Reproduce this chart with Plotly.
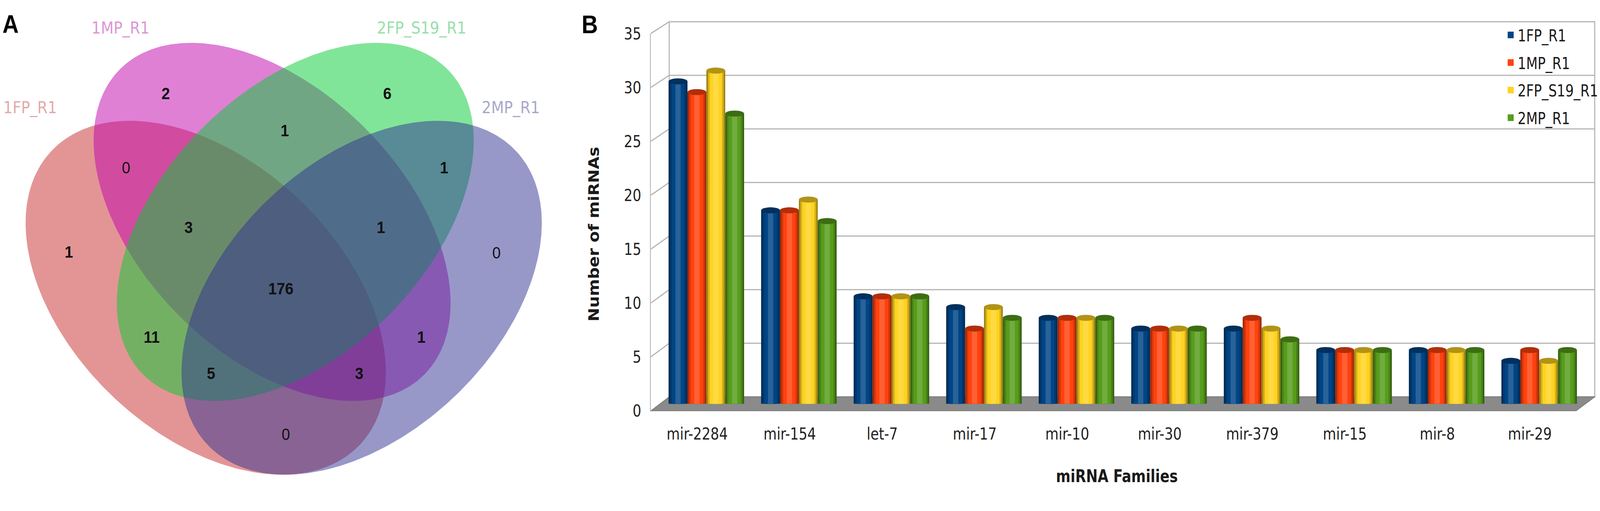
import numpy as np
import plotly.graph_objects as go

# ---------------- panel A : Venn counts ----------------
SETS = ["1FP_R1", "1MP_R1", "2FP_S19_R1", "2MP_R1"]
REGIONS = ["1FP", "1MP", "2FP", "2MP",
           "1FP&1MP", "1MP&2FP", "2FP&2MP", "1FP&2FP", "1MP&2MP", "1FP&2MP",
           "1FP&1MP&2FP", "1MP&2FP&2MP", "1FP&2FP&2MP", "1FP&1MP&2MP", "all"]
REGION_COUNTS = [1, 2, 6, 0, 0, 1, 1, 11, 1, 0, 3, 1, 5, 3, 176]

# ---------------- panel B : miRNA families ----------------
FAMILIES = ["mir-2284", "mir-154", "let-7", "mir-17", "mir-10",
            "mir-30", "mir-379", "mir-15", "mir-8", "mir-29"]
FP1_R1 = [30, 18, 10, 9, 8, 7, 7, 5, 5, 4]
MP1_R1 = [29, 18, 10, 7, 8, 7, 8, 5, 5, 5]
FP2_S19_R1 = [31, 19, 10, 9, 8, 7, 7, 5, 5, 4]
MP2_R1 = [27, 17, 10, 8, 8, 7, 6, 5, 5, 5]
SERIES = [FP1_R1, MP1_R1, FP2_S19_R1, MP2_R1]
BAR_COLORS = ["#004586", "#ff420e", "#ffd320", "#579d1c"]
Y_MAX, Y_STEP = 35, 5

# layout helpers (figure laid out in pixel units of the 4550x1309 page)
W, H = 4550, 1309
def px(x):
    return x / W
def py(y):
    return 1 - y / H

NARROW = "Liberation Sans Narrow, DejaVu Sans Condensed, Arial Narrow, sans-serif"
GRID = "#b4b4b4"

def shade(hexcol, f):
    r, g, b = int(hexcol[1:3], 16), int(hexcol[3:5], 16), int(hexcol[5:7], 16)
    if f < 0:
        r, g, b = [int(c * (1 + f)) for c in (r, g, b)]
    else:
        r, g, b = [int(c + (255 - c) * f) for c in (r, g, b)]
    return "rgb(%d,%d,%d)" % (r, g, b)

fig = go.Figure()

# ---- Venn ellipses: centre x, centre y, semi-axes, tilt (screen coords)
ELLIPSES = [(586, 767, 589, 372, 39.3),
            (775, 565, 595, 363, 41.0),
            (841, 565, 595, 363, -41.0),
            (1030, 767, 589, 372, -39.3)]
VENN_FILL = ["rgba(199,43,43,0.5)", "rgba(191,2,171,0.5)",
             "rgba(4,204,52,0.5)", "rgba(48,50,146,0.5)"]
VENN_LABEL_COL = ["#e4aaaa", "#dc96d4", "#96e0aa", "#a8a8cc"]
LABEL_XY = [(86, 260), (343, 48), (1201, 48), (1455, 260)]
REGION_XY = [(196, 649), (472, 227), (1103, 227), (1414, 651),
             (359, 424), (811, 326), (1265, 424), (432, 876), (1200, 876), (814, 1135),
             (537, 584), (1085, 584), (601, 972), (1023, 972), (800, 747)]

t = np.linspace(0, 2 * np.pi, 361)
for (cx, cy, a, b, ang), col in zip(ELLIPSES, VENN_FILL):
    th = np.radians(ang)
    ex = cx + a * np.cos(t) * np.cos(th) - b * np.sin(t) * np.sin(th)
    ey = cy + a * np.cos(t) * np.sin(th) + b * np.sin(t) * np.cos(th)
    fig.add_trace(go.Scatter(x=ex, y=ey, xaxis="x3", yaxis="y3", mode="lines",
                             fill="toself", fillcolor=col, line_width=0,
                             hoverinfo="skip", showlegend=False))

fig.add_trace(go.Scatter(
    x=[p[0] for p in REGION_XY], y=[p[1] for p in REGION_XY],
    xaxis="x3", yaxis="y3", mode="text",
    text=["<b>%d</b>" % c if c > 0 else str(c) for c in REGION_COUNTS],
    textposition="middle center",
    textfont=dict(family="Liberation Sans, Arial", size=43, color="#111111"),
    hoverinfo="skip", showlegend=False))

for name, (lx, ly), col in zip(SETS, LABEL_XY, VENN_LABEL_COL):
    fig.add_annotation(x=lx, y=ly, xref="x3", yref="y3", text=name, showarrow=False,
                       xanchor="center", yanchor="middle",
                       font=dict(family="DejaVu Sans", size=42, color=col))

# ---- front axis (labels only); an empty trace makes plotly draw this subplot
fig.add_trace(go.Scatter(x=[], y=[], xaxis="x", yaxis="y", showlegend=False, hoverinfo="skip"))

# ---- bars (cylinder look from narrowing layers sharing one offsetgroup)
BARGAP = 0.184
slot = (1 - BARGAP) / len(SERIES)
LAYERS = [(1.0, -0.38), (0.84, -0.16), (0.56, 0.0), (0.28, 0.16)]
for j, (vals, col, name) in enumerate(zip(SERIES, BAR_COLORS, SETS)):
    for k, (wf, sf) in enumerate(LAYERS):
        main = (sf == 0)
        fig.add_trace(go.Bar(
            x=FAMILIES, y=vals, name=name, xaxis="x2", yaxis="y2",
            offsetgroup=str(j), legendgroup=name, width=slot * wf,
            marker=dict(color=col if main else shade(col, sf),
                        line=dict(color=col, width=5 if main else 0)),
            showlegend=main, hoverinfo="skip"))

# darker elliptical tops of the cylinders
shapes = []
cap_h = 0.28
for j, (vals, col) in enumerate(zip(SERIES, BAR_COLORS)):
    for i, v in enumerate(vals):
        xc = i + (j - (len(SERIES) - 1) / 2) * slot
        shapes.append(dict(type="circle", xref="x2", yref="y2", layer="above",
                           x0=xc - slot * 0.5, x1=xc + slot * 0.5,
                           y0=v - cap_h, y1=v + cap_h,
                           fillcolor=shade(col, -0.3), line_width=0))

# ---- 3D frame: back wall, depth lines and floor
FRONT = dict(x0=1854, x1=4489, y0=1068, ytop=63)
BACK = dict(x0=1906, x1=4542, y0=1031, ytop=32)
def yv(v, s):
    return s["y0"] + (s["ytop"] - s["y0"]) * v / Y_MAX

frame = dict(xref="paper", yref="paper", layer="below")
shapes.append(dict(type="rect", x0=px(BACK["x0"]), x1=px(BACK["x1"]),
                   y0=py(BACK["y0"]), y1=py(BACK["ytop"]),
                   line=dict(color=GRID, width=3), **frame))
for v in range(Y_STEP, Y_MAX + 1, Y_STEP):
    if v < Y_MAX:
        shapes.append(dict(type="line", x0=px(BACK["x0"]), x1=px(BACK["x1"]),
                           y0=py(yv(v, BACK)), y1=py(yv(v, BACK)),
                           line=dict(color=GRID, width=3), **frame))
    shapes.append(dict(type="line", x0=px(FRONT["x0"]), y0=py(yv(v, FRONT)),
                       x1=px(BACK["x0"]), y1=py(yv(v, BACK)),
                       line=dict(color=GRID, width=3), **frame))
shapes.append(dict(type="path",
                   path="M %f %f L %f %f L %f %f L %f %f Z" % (
                       px(FRONT["x0"]), py(FRONT["y0"]), px(FRONT["x1"]), py(FRONT["y0"]),
                       px(BACK["x1"]), py(BACK["y0"]), px(BACK["x0"]), py(BACK["y0"])),
                   fillcolor="#8a8a8a", line=dict(color="#7a7a7a", width=2), **frame))

centred = dict(xref="paper", yref="paper", showarrow=False, xanchor="center", yanchor="middle")
fig.add_annotation(x=px(1691), y=py(597), text="<b>Number of miRNAs</b>", textangle=-90,
                   font=dict(family="DejaVu Sans", size=42, color="#1a1a1a"), **centred)
fig.add_annotation(x=px(3181), y=py(1242), text="<b>miRNA Families</b>",
                   font=dict(family=NARROW, size=44, color="#1a1a1a"), **centred)
fig.add_annotation(x=px(30), y=py(38), text="<b>A</b>",
                   font=dict(family="Liberation Sans, Arial", size=64, color="black"), **centred)
fig.add_annotation(x=px(1680), y=py(40), text="<b>B</b>",
                   font=dict(family="Liberation Sans, Arial", size=64, color="black"), **centred)

fig.update_layout(
    width=W, height=H, margin=dict(l=0, r=0, t=0, b=0),
    paper_bgcolor="white", plot_bgcolor="rgba(0,0,0,0)",
    barmode="group", bargap=BARGAP, bargroupgap=0,
    shapes=shapes,
    # front axis with labels
    xaxis=dict(domain=[px(FRONT["x0"]), px(FRONT["x1"])], range=[-0.5, len(FAMILIES) - 0.5],
               anchor="y", tickmode="array", tickvals=list(range(len(FAMILIES))),
               ticktext=FAMILIES, ticks="outside", ticklen=21, tickcolor="rgba(0,0,0,0)",
               showgrid=False, zeroline=False, showline=False,
               tickfont=dict(family=NARROW, size=43, color="#222222")),
    yaxis=dict(domain=[py(FRONT["y0"]), py(FRONT["ytop"])], range=[0, Y_MAX], anchor="x",
               dtick=Y_STEP, showgrid=False, zeroline=False, showline=True,
               linecolor=GRID, linewidth=3, ticks="outside", ticklen=16,
               tickcolor="rgba(0,0,0,0)",
               tickfont=dict(family=NARROW, size=43, color="#222222")),
    # bars at mid depth
    xaxis2=dict(domain=[px((FRONT["x0"] + BACK["x0"]) / 2), px((FRONT["x1"] + BACK["x1"]) / 2)],
                anchor="y2", visible=False, categoryorder="array", categoryarray=FAMILIES),
    yaxis2=dict(domain=[py((FRONT["y0"] + BACK["y0"]) / 2), py((FRONT["ytop"] + BACK["ytop"]) / 2)],
                range=[0, Y_MAX], anchor="x2", visible=False),
    # Venn
    xaxis3=dict(domain=[0, px(1600)], range=[0, 1600], anchor="y3", visible=False),
    yaxis3=dict(domain=[0, 1], range=[H, 0], anchor="x3", visible=False),
    legend=dict(x=px(4283), y=py(32), xanchor="left", yanchor="top",
                bgcolor="rgba(0,0,0,0)", traceorder="grouped", tracegroupgap=13,
                font=dict(family=NARROW, size=42, color="#1a1a1a")),
)

# fit the fixed-size figure to whatever viewport the page is opened in
FIT_JS = """
var gd = document.getElementById('{plot_id}');
document.body.style.margin = '0';
document.body.style.overflow = 'hidden';
gd.style.transformOrigin = '0 0';
gd.style.transform = 'scale(' + (window.innerWidth / %d) + ',' + (window.innerHeight / %d) + ')';
""" % (W, H)

fig.write_html("out.html", post_script=FIT_JS, config={"displayModeBar": False})
